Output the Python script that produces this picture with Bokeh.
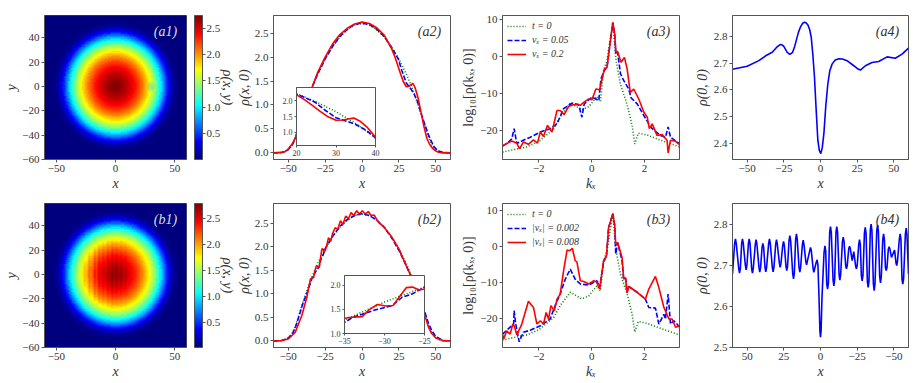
import numpy as np
from bokeh.plotting import figure
from bokeh.models import (Range1d, FixedTicker, LinearColorMapper, ColorBar, Label,
                          Legend, LegendItem, LinearAxis)
from bokeh.embed import file_html
from bokeh.resources import INLINE

# ---------------- data (density in units of 1e-4) ----------------
radial_rho = [2.72,2.72,2.71,2.70,2.69,2.67,2.65,2.63,2.61,2.59,2.57,2.54,2.51,2.48,2.45,2.42,2.38,2.34,2.30,2.26,
              2.22,2.17,2.12,2.07,2.02,1.96,1.90,1.84,1.78,1.71,1.65,1.58,1.51,1.44,1.36,1.28,1.19,1.10,1.01,0.92,
              0.83,0.72,0.62,0.52,0.42,0.34,0.26,0.20,0.14,0.10,0.07,0.05,0.03,0.02,0.01,0.005]
b1_stripe_x0 = -30
b1_stripe = [-.02,-.03,0,.03,.02,-.03,-.01,.03,.02,-.03,-.02,.02,.03,-.01,-.03,.02,.02,-.01,-.01,.025,0,-.02,0,.025,
             -.01,-.02,.01,.02,-.01,-.01,.02,.01,-.01,0,.015,.005,-.01,0,.01]
a1_bump_x = [30, 30]
a1_bump_y = [0, 0]
a1_bump_r = [4, 2.2]

t0_x = [-60,-55,-52,-50,-47,-45,-40,-35,-30,-25,-20,-15,-10,-5,0,5,10,15,20,25,30,35,40,45,47,50,52,55,60]
t0_y = [0,.005,.03,.07,.18,.33,.83,1.28,1.65,1.96,2.22,2.42,2.57,2.67,2.70,2.67,2.57,2.42,2.22,1.96,1.65,1.28,.83,.33,.18,.07,.03,.005,0]

a2_blue_x = [-60,-55,-52,-50,-47,-45,-40,-35,-30,-25,-20,-15,-10,-5,0,5,10,15,20,22,24.7,27,30,32.5,35,37.5,40,42.5,45,47,49,50,52,55,60]
a2_blue_y = [0,.005,.03,.07,.18,.33,.83,1.28,1.65,1.96,2.22,2.43,2.58,2.68,2.71,2.68,2.58,2.43,2.2,2.1,1.95,1.72,1.46,1.36,1.25,1.08,.83,.6,.38,.24,.12,.09,.04,.01,0]
a2_red_x = [-60,-55,-52,-50,-47,-45,-40,-35,-30,-25,-20,-15,-10,-5,0,5,10,15,20,22,24,26,28,30,32,33,34.5,36,38,40,42,44,46,48,50,52,55,60]
a2_red_y = [0,.01,.03,.08,.2,.33,.83,1.28,1.68,2.0,2.27,2.47,2.6,2.69,2.73,2.7,2.61,2.46,2.18,2.03,1.85,1.66,1.49,1.38,1.39,1.42,1.45,1.36,1.15,.85,.55,.3,.17,.09,.04,.015,0,0]

b2_blue_x = [-60,-55,-50,-47,-45,-40,-37,-35,-34,-32.8,-31.1,-29,-27.8,-26.5,-25,-20,-15,-10,-5,0,5,10,15,20,25,30,35,40,45,47,50,55,60]
b2_blue_y = [0,.005,.06,.16,.3,.8,1.05,1.23,1.33,1.4,1.49,1.58,1.75,1.82,1.96,2.22,2.44,2.58,2.67,2.71,2.67,2.57,2.42,2.2,1.93,1.6,1.25,.85,.38,.24,.09,.01,0]
b2_red_x = [-60,-55,-50,-45.3,-40.8,-37.4,-35,-34.46,-32.78,-31.95,-30.9,-29.85,-28.93,-28.18,-27.26,-26.5,-25.67,-25,-24,-22.7,-21.2,-20,-18.2,-16.4,-14.6,-13,-11,-9.2,-7.4,-5.6,-3.6,-1.8,.2,2.3,4.3,6.1,8.3,10,12,15,20,25,30,35,40,45,47,50,55,60]
b2_red_y = [0,.005,.04,.18,.54,.93,1.31,1.33,1.35,1.49,1.6,1.57,1.58,1.75,1.95,1.96,1.9,1.92,2.02,2.2,2.12,2.28,2.41,2.38,2.56,2.48,2.66,2.6,2.73,2.67,2.77,2.7,2.77,2.7,2.755,2.67,2.68,2.58,2.5,2.42,2.22,1.96,1.6,1.25,.8,.3,.17,.06,.005,0]

k0_x = [-3.37,-2.45,-2,-1.44,-1.19,-.81,-.37,-.11,.2,.33,.45,.58,.8,.92,1.09,1.34,1.53,1.63,1.76,2.1,2.6,3.32]
k0_y = [-25.8,-24.4,-23,-19.6,-16.3,-12.6,-14.4,-13.6,-10.8,-12.2,-3.9,-1.1,9.2,-1,-7.6,-13,-18.7,-23.6,-20.7,-21.2,-22.6,-24.4]

a3_blue_x = [-3.37,-3.14,-3.02,-2.93,-2.83,-2.58,-2.32,-1.94,-1.57,-1.31,-1.06,-.74,-.49,-.37,-.28,.01,.27,.35,.48,.58,.71,.8,.87,.91,.98,1.09,1.21,1.4,1.49,1.72,1.97,2.16,2.29,2.6,2.79,2.89,2.98,3.32]
a3_blue_y = [-24.2,-23.1,-22.2,-19.5,-23.5,-22.6,-21.8,-20.4,-19.5,-18.2,-14.1,-12.6,-13,-16.4,-12.8,-11,-11.9,-6.1,-3.8,-3,4.2,9.1,6,.6,1.1,-4.7,-6.5,-8.8,-11.2,-12.8,-15.9,-18.2,-19.5,-21.3,-21.8,-19,-21.8,-23.5]
a3_red_x = [-3.37,-3.21,-3.02,-2.83,-2.73,-2.58,-2.39,-2.2,-2.05,-1.94,-1.82,-1.67,-1.5,-1.31,-1.19,-1.04,-.87,-.68,-.43,-.3,-.11,.01,.16,.3,.48,.58,.71,.8,.87,.92,.98,1.11,1.24,1.34,1.46,1.59,1.78,1.97,2.1,2.18,2.29,2.47,2.66,2.85,2.89,2.98,3.17,3.32]
a3_red_y = [-24.2,-23.5,-22.8,-23.4,-24.9,-23.1,-23.7,-22.5,-23.4,-20.4,-21.6,-18.6,-20.4,-14.6,-14.6,-15.7,-13.5,-13,-13.2,-12.4,-11.5,-11.7,-8.8,-9,-3.4,-3,4.2,9.1,6,1.1,1.3,-1.6,-.3,-3.4,-9.7,-8.8,-11.5,-15,-16.4,-19.5,-18.2,-21.3,-21.1,-22.6,-26,-22.6,-22.9,-23.8]

b3_blue_x = [-3.37,-2.95,-2.93,-2.87,-2.74,-2.58,-2.32,-1.94,-1.57,-1.38,-1.19,-1,-.81,-.62,-.43,-.11,.2,.3,.45,.56,.64,.8,.87,.91,.98,1.15,1.21,1.28,1.34,1.4,1.72,2.03,2.16,2.41,2.54,2.73,2.79,2.89,2.98,3.11,3.32]
b3_blue_y = [-24.2,-21.4,-17.7,-21.4,-26.3,-23.7,-23.1,-21.9,-20,-16.3,-13.1,-9,-6.2,-9,-10.3,-10.6,-9.4,-11.3,-4.3,-2.5,5.3,9.2,6,-2,1.2,-3.9,-9,-8.7,-12.7,-11,-12.6,-14.5,-16.8,-17,-21.4,-18.7,-20,-13.1,-21.4,-20.5,-22.2]
b3_red_x = [-3.37,-3.33,-3.21,-3.08,-2.98,-2.92,-2.83,-2.64,-2.39,-2.2,-2.07,-1.94,-1.82,-1.72,-1.63,-1.54,-1.41,-1.31,-1.19,-1.06,-.93,-.83,-.73,-.62,-.56,-.43,-.3,-.11,.08,.18,.3,.45,.56,.64,.8,.87,.91,.98,1.15,1.21,1.28,1.34,1.4,1.72,2.03,2.16,2.41,2.54,2.73,2.92,3.04,3.17,3.32]
b3_red_y = [-24.2,-25.6,-23.3,-24.2,-21.4,-22,-24.4,-21.4,-15.1,-16.8,-21.4,-20.5,-21.4,-18.2,-20,-16.3,-17.7,-14.5,-13.1,-6.6,-.9,-1.1,-.4,-3.9,-4.1,-9.4,-9.6,-10.3,-9.4,-9.7,-11.7,-3.9,-2.5,5.3,9.2,6,.7,1.2,-3,-9,-8.5,-12.7,-11,-12.6,-14.5,-11.7,-8.2,-11.3,-16.8,-20,-20,-22.3,-21.9]

a4_x = [-60,-50,-42,-37.4,-32.9,-30,-28.5,-27.2,-26,-25,-22.7,-20.9,-19,-17.6,-16.3,-15,-13.6,-12.2,-10.9,-9.7,-8.6,-7.4,-6.3,-5.2,-4.1,-3,-1.8,-.8,.2,1.2,2.3,3.6,5,6.3,7.9,10,12.5,15,18.1,22.7,25,27.2,30.6,35.1,39.7,45.4,51,55.6,60]
a4_y = [2.677,2.688,2.709,2.727,2.74,2.758,2.765,2.769,2.767,2.762,2.74,2.732,2.74,2.762,2.789,2.815,2.835,2.848,2.852,2.849,2.842,2.825,2.795,2.73,2.647,2.53,2.412,2.375,2.363,2.385,2.437,2.54,2.622,2.67,2.696,2.711,2.716,2.715,2.709,2.69,2.68,2.674,2.69,2.702,2.706,2.723,2.718,2.733,2.756]
b4_x = [60,58.55,58,57.45,55.75,55.2,54.65,53.75,53.2,52.65,51.25,50.7,50.15,49.15,48.6,48.05,46.95,46.4,45.85,44.45,43.9,43.35,41.95,41.4,40.85,39.85,39.3,38.75,37.85,37.3,36.75,35.35,34.8,34.25,32.85,32.3,31.75,30.55,30,29.45,28.05,27.5,26.95,25.75,25.2,24.65,23.55,23,22.45,21.45,20.9,20.35,18.95,18.4,17.85,16.95,16.4,15.85,14.65,14.1,13.55,12.35,11.8,11.25,10.05,9.5,8.95,7.35,6.8,6.25,5.05,4.5,3.95,2.85,2.3,1.75,1,.4,0,-.4,-1,-2.4,-3,-3.55,-4.25,-4.8,-5.35,-6.25,-6.8,-7.35,-8.55,-9.1,-9.65,-10.55,-11.1,-11.65,-12.65,-13.2,-13.75,-14.95,-15.5,-16.05,-17.15,-17.7,-18.25,-19.25,-19.8,-20.35,-21.6,-22.7,-23.95,-24.5,-25.05,-26.05,-26.6,-27.15,-27.85,-28.4,-28.95,-29.95,-30.5,-31.05,-31.95,-32.5,-33.05,-33.95,-34.5,-35.05,-36.05,-36.6,-37.15,-38.35,-38.9,-39.45,-40.35,-40.9,-41.45,-42.45,-43,-43.55,-44.25,-44.8,-45.35,-46.25,-46.8,-47.35,-48.4,-50.5,-51.5,-52,-52.5,-53.75,-54.3,-54.85,-55.55,-56.1,-56.65,-57.85,-58.4,-58.95,-60]
b4_y = [2.679,2.753,2.764,2.753,2.692,2.681,2.692,2.753,2.764,2.753,2.70,2.689,2.70,2.753,2.764,2.753,2.692,2.681,2.692,2.751,2.762,2.751,2.694,2.683,2.694,2.743,2.753,2.743,2.695,2.684,2.695,2.753,2.764,2.753,2.695,2.684,2.695,2.751,2.762,2.751,2.705,2.695,2.705,2.748,2.758,2.748,2.698,2.687,2.698,2.76,2.772,2.76,2.68,2.667,2.68,2.763,2.776,2.763,2.695,2.683,2.695,2.75,2.761,2.75,2.71,2.701,2.71,2.735,2.743,2.735,2.692,2.683,2.692,2.708,2.713,2.70,2.62,2.54,2.525,2.54,2.62,2.73,2.747,2.735,2.655,2.642,2.655,2.78,2.794,2.78,2.665,2.65,2.665,2.78,2.794,2.78,2.678,2.664,2.678,2.757,2.768,2.757,2.70,2.691,2.70,2.74,2.746,2.74,2.711,2.733,2.698,2.691,2.70,2.75,2.762,2.75,2.675,2.662,2.675,2.778,2.792,2.778,2.66,2.646,2.66,2.785,2.80,2.785,2.655,2.638,2.655,2.783,2.798,2.783,2.672,2.657,2.672,2.763,2.776,2.763,2.695,2.687,2.695,2.739,2.745,2.739,2.719,2.737,2.705,2.699,2.71,2.763,2.776,2.763,2.667,2.654,2.667,2.775,2.79,2.775,2.679]

pos_ticks = [-50,-25,0,25,50]
rho_ticks = [0.0,0.5,1.0,1.5,2.0,2.5]
cb_ticks = [0.5,1.0,1.5,2.0,2.5]

# ---------------- style ----------------
SERIF = "Liberation Serif"
INK = "#333333"
FRAME = "#555555"
GREEN, BLUE, RED = "#008000", "#0000ff", "#ff0000"

def jet(n=256):
    out = []
    for i in range(n):
        v = i / (n - 1)
        r = np.clip(min(4 * v - 1.5, -4 * v + 4.5), 0, 1)
        g = np.clip(min(4 * v - 0.5, -4 * v + 3.5), 0, 1)
        b = np.clip(min(4 * v + 0.5, -4 * v + 2.5), 0, 1)
        out.append("#%02x%02x%02x" % (int(r * 255), int(g * 255), int(b * 255)))
    return out

def lab(t):
    return str(t).replace("-", "\u2212")

def style_axis(ax, ticks, fmt, size="11px"):
    ax.ticker = FixedTicker(ticks=list(ticks))
    ax.major_label_overrides = {t: lab(fmt % t) for t in ticks}
    ax.major_label_text_font = SERIF
    ax.major_label_text_font_size = size
    ax.major_label_text_color = INK
    ax.major_tick_in = 0
    ax.major_tick_out = 3
    ax.minor_tick_in = 0
    ax.minor_tick_out = 0
    ax.major_tick_line_color = FRAME
    ax.axis_line_color = FRAME
    ax.major_label_standoff = 2
    ax.axis_label_text_font = SERIF
    ax.axis_label_text_font_size = "14px"
    ax.axis_label_text_font_style = "italic"
    ax.axis_label_text_color = INK
    ax.axis_label_standoff = 1

def make(pos, fw, left, right, xr, yr, xticks, yticks, xfmt, yfmt, xlabel, ylabel, ystand):
    frame_left, canvas_top, top, bottom = pos
    canvas_left = frame_left - left
    w, h = fw + left + right, 144 + top + bottom
    p = figure(frame_width=fw, frame_height=144, width=w, height=h, sizing_mode="fixed",
               output_backend="svg", toolbar_location=None,
               x_range=Range1d(*xr), y_range=Range1d(*yr),
               min_border_left=left, min_border_right=right, min_border_top=top, min_border_bottom=bottom,
               styles={"position": "absolute", "left": f"{canvas_left}px", "top": f"{canvas_top}px",
                       "width": f"{w}px", "height": f"{h}px"})
    p.grid.visible = False
    p.border_fill_alpha = 0
    p.background_fill_alpha = 0
    p.outline_line_color = FRAME
    p.outline_line_width = 1
    style_axis(p.xaxis[0], xticks, xfmt)
    style_axis(p.yaxis[0], yticks, yfmt)
    p.xaxis[0].axis_label = xlabel
    p.yaxis[0].axis_label = ylabel
    p.yaxis[0].axis_label_standoff = ystand
    return p

def note(p, text, x, y, size="14px", color=INK, align="center", style="italic"):
    p.add_layout(Label(x=x, y=y, x_units="screen", y_units="screen", text=text, text_font=SERIF,
                       text_font_size=size, text_color=color, text_align=align,
                       text_baseline="middle", text_font_style=style))

def heat(row, label, high, stripes):
    p = make((44,) + row, 142, 50, 62, (-60, 60), (-60, 58.5), [-50, 0, 50], [-60, -40, -20, 0, 20, 40],
             "%d", "%d", "x", "y", 0)
    c = (np.arange(240) + 0.5) * 0.5 - 60
    xx, yy = np.meshgrid(c, c)
    r = np.hypot(xx, yy)
    prof = np.array(radial_rho + [0.0] * 40)
    vals = prof[np.round(r).astype(int)]
    if stripes:
        st = np.zeros(240)
        ix = np.floor(c).astype(int) - b1_stripe_x0
        ok = (ix >= 0) & (ix < len(b1_stripe))
        st[ok] = np.array(b1_stripe)[ix[ok]]
        vals = vals * (1 + st[None, :] * (r < 30))
    mapper = LinearColorMapper(palette=jet(), low=0.01, high=high)
    p.image(image=[vals], x=-60, y=-60, dw=120, dh=120, color_mapper=mapper)
    if not stripes:
        p.circle(x=a1_bump_x, y=a1_bump_y, radius=a1_bump_r, fill_color="#70e0a0", fill_alpha=0.35, line_color=None)
    cb = ColorBar(color_mapper=mapper, width=8, height=144, margin=0, padding=0, location=(8, 0),
                  ticker=FixedTicker(ticks=cb_ticks),
                  major_label_overrides={t: "%.1f" % t for t in cb_ticks},
                  major_label_text_font=SERIF, major_label_text_font_size="11px",
                  major_label_text_color=INK, major_tick_in=0, major_tick_out=3,
                  major_tick_line_color=FRAME, minor_tick_line_color=None,
                  label_standoff=1, bar_line_color=FRAME, border_line_color=None,
                  background_fill_alpha=0)
    p.add_layout(cb, "right")
    cb_axis = LinearAxis(axis_label="\u03c1(x, y)", ticker=FixedTicker(ticks=[]), axis_line_color=None,
                         major_tick_line_color=None, minor_tick_line_color=None,
                         axis_label_text_font=SERIF, axis_label_text_font_size="14px",
                         axis_label_text_font_style="italic", axis_label_text_color=INK,
                         axis_label_standoff=-4, major_label_text_font_size="0px")
    p.add_layout(cb_axis, "right")
    note(p, label, 121, 128, color="#dddddd")
    note(p, "\u00d710\u207b\u2074", 158, 150, size="10px", align="right", style="normal")
    return p

def curves(p, blue, red, green, lw=1.6):
    r1 = p.line(green[0], green[1], line_color=GREEN, line_width=lw, line_dash="1 2")
    r2 = p.line(blue[0], blue[1], line_color=BLUE, line_width=lw, line_dash="5 2")
    r3 = p.line(red[0], red[1], line_color=RED, line_width=lw)
    return r1, r2, r3

def profile(row, yr, label, blue, red):
    p = make((273,) + row, 177, 50, 2, (-60, 60), yr, pos_ticks, rho_ticks, "%d", "%.1f", "x", "\u03c1(x, 0)", 0)
    curves(p, blue, red, (t0_x, t0_y))
    note(p, label, 156, 128)
    note(p, "\u00d710\u207b\u2074", 1, 150, size="10px", align="left", style="normal")
    return p

def inset(frame_left, top, xr, yr, xticks, yticks, blue, red, fw):
    w, h = fw + 32, 58 + 22
    p = figure(frame_width=fw, frame_height=58, width=w, height=h, sizing_mode="fixed",
               output_backend="svg", toolbar_location=None, x_range=Range1d(*xr), y_range=Range1d(*yr),
               min_border_left=22, min_border_right=10, min_border_top=2, min_border_bottom=20,
               styles={"position": "absolute", "left": f"{frame_left - 22}px", "top": f"{top}px",
                       "width": f"{w}px", "height": f"{h}px"})
    p.grid.visible = False
    p.border_fill_alpha = 0
    p.background_fill_color = "#ffffff"
    p.outline_line_color = FRAME
    style_axis(p.xaxis[0], xticks, "%d", "8px")
    style_axis(p.yaxis[0], yticks, "%.1f", "8px")
    p.xaxis[0].major_tick_out = 2
    p.yaxis[0].major_tick_out = 2
    curves(p, blue, red, (t0_x, t0_y))
    return p

def spectrum(row, yr, label, blue, red, names):
    p = make((502,) + row, 177, 55, 2, (-3.37, 3.32), yr, [-2, 0, 2], [-20, -10, 0, 10], "%d", "%d",
             "kₓ", "log\u2081\u2080[\u03c1(kₓ, 0)]", 1)
    p.yaxis[0].axis_label_text_font_style = "normal"
    r1, r2, r3 = curves(p, blue, red, (k0_x, k0_y))
    leg = Legend(items=[LegendItem(label=names[0], renderers=[r1]), LegendItem(label=names[1], renderers=[r2]),
                        LegendItem(label=names[2], renderers=[r3])],
                 location="top_left", background_fill_alpha=0, border_line_color=None,
                 label_text_font=SERIF, label_text_font_size="10px", label_text_font_style="italic",
                 label_text_color=INK, glyph_width=19, glyph_height=8, label_standoff=6,
                 spacing=3, padding=5, margin=5, label_height=10)
    p.add_layout(leg)
    note(p, label, 156, 128)
    return p

def scan(row, xr, yr, yticks, label, xs, ys):
    p = make((732,) + row, 176, 55, 2, xr, yr, pos_ticks, yticks, "%d", "%.1f", "x", "\u03c1(0, 0)", 1)
    p.line(xs, ys, line_color=BLUE, line_width=1.6)
    note(p, label, 155, 128)
    note(p, "\u00d710\u207b\u2074", 1, 150, size="10px", align="left", style="normal")
    note(p, "b", 94, -27, size="10px")
    return p

ROW_A = (2, 13, 38)    # canvas top, border above the frame, border below it
ROW_B = (192, 11, 36)
a1 = heat(ROW_A, "(a1)", 2.74, False)
a2 = profile(ROW_A, (-0.138, 2.867), "(a2)", (a2_blue_x, a2_blue_y), (a2_red_x, a2_red_y))
a3 = spectrum(ROW_A, (-27.8, 11), "(a3)", (a3_blue_x, a3_blue_y), (a3_red_x, a3_red_y),
              ["t = 0", "vₓ = 0.05", "vₓ = 0.2"])
a4 = scan(ROW_A, (-60, 60), (2.341, 2.877), [2.4, 2.5, 2.6, 2.7, 2.8], "(a4)", a4_x, a4_y)

b1 = heat(ROW_B, "(b1)", 2.80, True)
b2 = profile(ROW_B, (-0.14, 2.925), "(b2)", (b2_blue_x, b2_blue_y), (b2_red_x, b2_red_y))
b3 = spectrum(ROW_B, (-27.9, 12), "(b3)", (b3_blue_x, b3_blue_y), (b3_red_x, b3_red_y),
              ["t = 0", "|vₓ| = 0.002", "|vₓ| = 0.008"])
b4 = scan(ROW_B, (60, -60), (2.5, 2.85), [2.5, 2.6, 2.7, 2.8], "(b4)", b4_x, b4_y)

ia = inset(296, 85, (20, 40), (0.59, 2.41), [20, 30, 40], [1.0, 1.5, 2.0],
           (a2_blue_x, a2_blue_y), (a2_red_x, a2_red_y), 79)
ib = inset(344, 273, (-35, -25), (1.0, 2.2), [-35, -30, -25], [1.0, 1.5, 2.0],
           (b2_blue_x, b2_blue_y), (b2_red_x, b2_red_y), 80)

roots = [a1, a2, a3, a4, b1, b2, b3, b4, ia, ib]
open("out.html", "w").write(file_html(roots, INLINE))
